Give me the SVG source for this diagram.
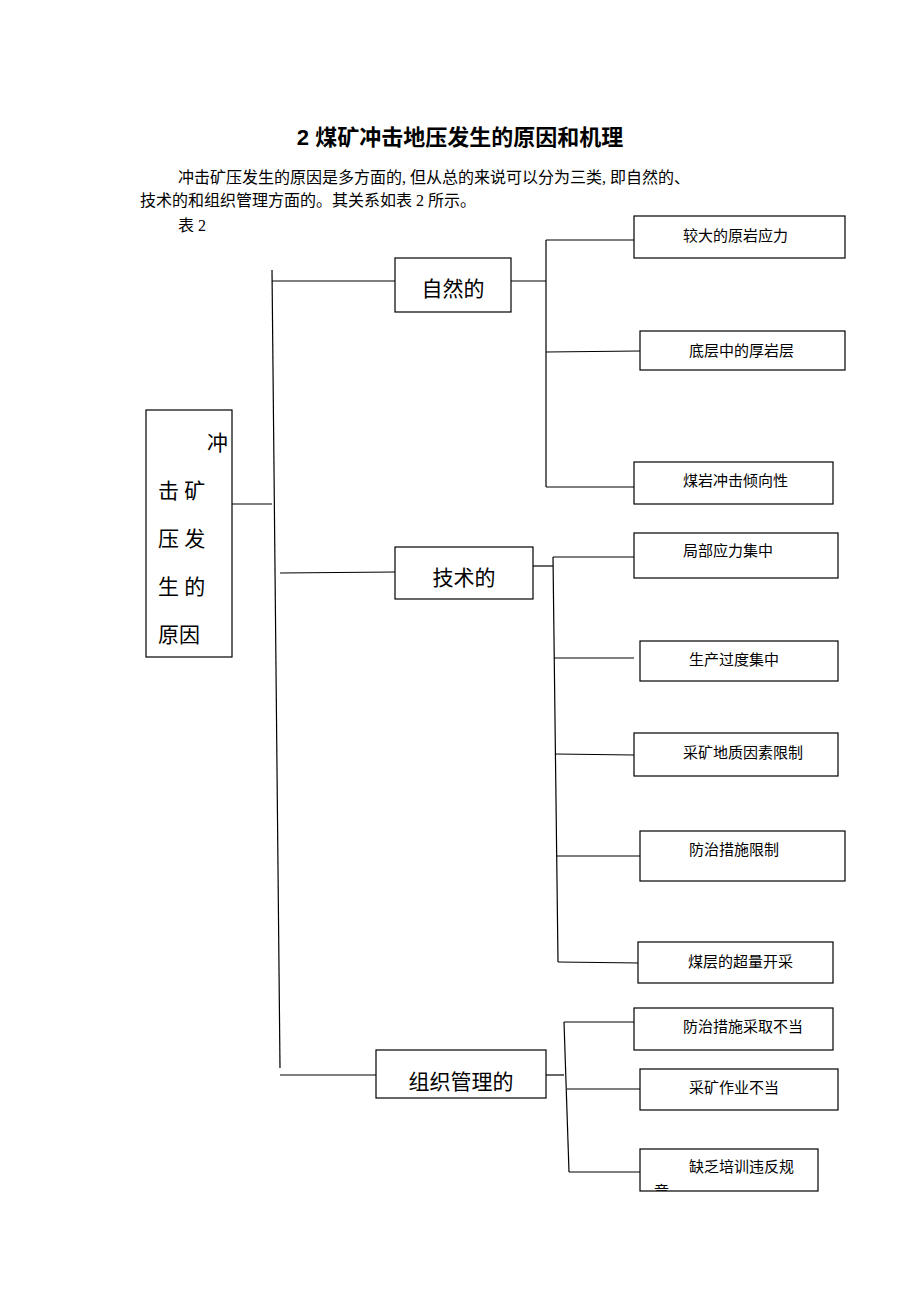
<svg xmlns="http://www.w3.org/2000/svg" width="920" height="1302" viewBox="0 0 920 1302">
<style>
.b{fill:#fff;stroke:#000;stroke-width:1.2}
.t{font-family:"Liberation Serif","Noto Sans CJK SC",serif;fill:#000}
.s{font-size:15px}
.m{font-size:21px}
#connectors line{stroke:#000;stroke-width:1.2}
</style>
<defs><clipPath id="c1"><rect x="640" y="1149" width="178" height="42"/></clipPath></defs>
<rect width="920" height="1302" fill="#fff"/>
<text x="460" y="145" text-anchor="middle" font-family="'Liberation Sans','Noto Sans CJK SC',sans-serif" font-weight="bold" font-size="22">2  煤矿冲击地压发生的原因和机理</text>
<text class="t" x="178" y="183" font-size="16">冲击矿压发生的原因是多方面的, 但从总的来说可以分为三类, 即自然的、</text>
<text class="t" x="140" y="206" font-size="16">技术的和组织管理方面的。其关系如表 2 所示。</text>
<text class="t" x="178" y="231" font-size="16">表 2</text>
<g id="connectors">
<line x1="232" y1="504" x2="272" y2="504"/>
<line x1="272" y1="270" x2="280" y2="1068"/>
<line x1="272" y1="281" x2="395" y2="281"/>
<line x1="280" y1="573" x2="395" y2="572"/>
<line x1="280" y1="1075" x2="376" y2="1075"/>
<line x1="511" y1="281" x2="546" y2="281"/>
<line x1="546" y1="240" x2="546" y2="487"/>
<line x1="546" y1="240" x2="634" y2="240"/>
<line x1="546" y1="352" x2="640" y2="351"/>
<line x1="546" y1="487" x2="634" y2="487"/>
<line x1="533" y1="566" x2="553" y2="566"/>
<line x1="553" y1="557" x2="558" y2="962"/>
<line x1="553" y1="557" x2="634" y2="557"/>
<line x1="554" y1="658" x2="634" y2="658"/>
<line x1="556" y1="754" x2="634" y2="755"/>
<line x1="557" y1="856" x2="640" y2="856"/>
<line x1="558" y1="962" x2="640" y2="963"/>
<line x1="546" y1="1075" x2="564" y2="1075"/>
<line x1="564" y1="1022" x2="569" y2="1172"/>
<line x1="564" y1="1022" x2="634" y2="1022"/>
<line x1="567" y1="1089" x2="640" y2="1089"/>
<line x1="569" y1="1172" x2="640" y2="1172"/>
</g>
<g id="root"><rect class="b" x="146" y="410" width="86" height="247"/>
<text class="t" font-size="21" x="207" y="450">冲</text>
<text class="t" font-size="21" x="158" y="498">击 矿</text>
<text class="t" font-size="21" x="158" y="546">压 发</text>
<text class="t" font-size="21" x="158" y="594">生 的</text>
<text class="t" font-size="21" x="158" y="642">原因</text></g>
<g id="n1"><rect class="b" x="395" y="258" width="116" height="54"/><text class="t m" x="453" y="296" text-anchor="middle">自然的</text></g>
<g id="n2"><rect class="b" x="395" y="547" width="138" height="52"/><text class="t m" x="464" y="585" text-anchor="middle">技术的</text></g>
<g id="n3"><rect class="b" x="376" y="1050" width="170" height="48"/><text class="t m" x="461" y="1089" text-anchor="middle">组织管理的</text></g>
<g id="l1"><rect class="b" x="634" y="216" width="211" height="42"/><text class="t s" x="683" y="241">较大的原岩应力</text></g>
<g id="l2"><rect class="b" x="640" y="331" width="205" height="39"/><text class="t s" x="689" y="356">底层中的厚岩层</text></g>
<g id="l3"><rect class="b" x="634" y="462" width="199" height="42"/><text class="t s" x="683" y="486">煤岩冲击倾向性</text></g>
<g id="l4"><rect class="b" x="634" y="533" width="204" height="45"/><text class="t s" x="683" y="556">局部应力集中</text></g>
<g id="l5"><rect class="b" x="640" y="641" width="198" height="40"/><text class="t s" x="689" y="665">生产过度集中</text></g>
<g id="l6"><rect class="b" x="634" y="733" width="204" height="43"/><text class="t s" x="683" y="758">采矿地质因素限制</text></g>
<g id="l7"><rect class="b" x="640" y="831" width="205" height="50"/><text class="t s" x="689" y="855">防治措施限制</text></g>
<g id="l8"><rect class="b" x="638" y="942" width="195" height="41"/><text class="t s" x="688" y="967">煤层的超量开采</text></g>
<g id="l9"><rect class="b" x="634" y="1008" width="199" height="42"/><text class="t s" x="683" y="1032">防治措施采取不当</text></g>
<g id="l10"><rect class="b" x="640" y="1069" width="198" height="41"/><text class="t s" x="689" y="1093">采矿作业不当</text></g>
<g id="l11"><rect class="b" x="640" y="1149" width="178" height="42"/><text class="t s" x="689" y="1172">缺乏培训违反规</text><text class="t s" x="654" y="1197" clip-path="url(#c1)">章</text></g>
</svg>
